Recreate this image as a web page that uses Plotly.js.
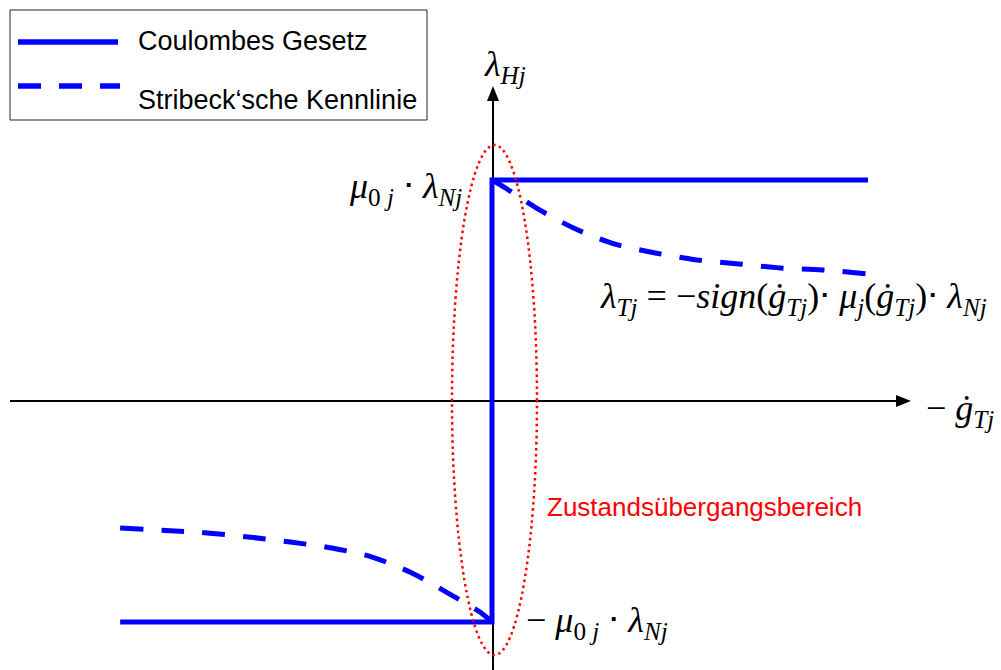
<!DOCTYPE html>
<html>
<head>
<meta charset="utf-8">
<script src="https://cdn.plot.ly/plotly-3.0.1.min.js"></script>
<style>
  html, body { margin: 0; padding: 0; background: #ffffff; }
  #chart { width: 1001px; height: 670px; }
</style>
</head>
<body>
<div id="chart"></div>
<script>
// Coulomb friction law: constant magnitude, sign jump at zero slip velocity
const coulombX = [-0.989, 0, 0, 1.0];
const coulombY = [-1.0, -1.0, 1.0, 1.0];

// Stribeck characteristic, branch for positive -ġ
const stribeckPosX = [0, 0.032, 0.122, 0.223, 0.327, 0.434, 0.545, 0.657, 0.766, 0.878, 1.0];
const stribeckPosY = [1.0, 0.968, 0.869, 0.778, 0.710, 0.670, 0.638, 0.620, 0.602, 0.593, 0.575];

// Stribeck characteristic, branch for negative -ġ
const stribeckNegX = [-0.989, -0.843, -0.758, -0.649, -0.537, -0.426, -0.319, -0.213, -0.117, -0.032, 0];
const stribeckNegY = [-0.575, -0.588, -0.597, -0.615, -0.638, -0.665, -0.706, -0.778, -0.869, -0.955, -1.0];

const legendLabels = ['Coulombes Gesetz', 'Stribeck\u2018sche Kennlinie'];
const regionLabel = 'Zustandsübergangsbereich';

// Page geometry (pixels) and the data window that places the origin
const W = 1001, H = 670;
const originPx = 492, originPy = 401, unitPx = 376, unitPy = 221;
const xRange = [-originPx / unitPx, (W - originPx) / unitPx];
const yRange = [-(H - originPy) / unitPy, originPy / unitPy];

// pixel -> paper fraction helpers for decorations and labels
const px = v => v / W;
const py = v => 1 - v / H;

const BLUE = '#0000ff';
const DASH = '23px,18px';

const traces = [
  { x: coulombX, y: coulombY, mode: 'lines', name: legendLabels[0],
    line: { color: BLUE, width: 5 }, hoverinfo: 'skip' },
  { x: stribeckPosX, y: stribeckPosY, mode: 'lines', name: legendLabels[1],
    line: { color: BLUE, width: 5, dash: DASH, shape: 'spline', smoothing: 0.8 }, hoverinfo: 'skip' },
  { x: stribeckNegX, y: stribeckNegY, mode: 'lines', name: legendLabels[1], showlegend: false,
    line: { color: BLUE, width: 5, dash: DASH, shape: 'spline', smoothing: 0.8 }, hoverinfo: 'skip' }
];

function tri(tip, b1, b2) {
  return 'M' + px(tip[0]) + ',' + py(tip[1]) +
         ' L' + px(b1[0]) + ',' + py(b1[1]) +
         ' L' + px(b2[0]) + ',' + py(b2[1]) + ' Z';
}

const shapes = [
  // horizontal axis with arrow
  { type: 'line', xref: 'paper', yref: 'paper', layer: 'below',
    x0: px(10), y0: py(originPy), x1: px(898), y1: py(originPy),
    line: { color: '#000', width: 2 } },
  { type: 'path', xref: 'paper', yref: 'paper', layer: 'above',
    path: tri([911, originPy], [896, originPy - 6], [896, originPy + 6]),
    fillcolor: '#000', line: { color: '#000', width: 0 } },
  // vertical axis with arrow
  { type: 'line', xref: 'paper', yref: 'paper', layer: 'below',
    x0: px(493), y0: py(670), x1: px(493), y1: py(98),
    line: { color: '#000', width: 2 } },
  { type: 'path', xref: 'paper', yref: 'paper', layer: 'above',
    path: tri([493, 86], [487, 101], [499, 101]),
    fillcolor: '#000', line: { color: '#000', width: 0 } },
  // transition region
  { type: 'circle', xref: 'paper', yref: 'paper', layer: 'above',
    x0: px(452), x1: px(537), y0: py(655), y1: py(145),
    line: { color: '#ff0000', width: 2.5, dash: '2.5px,3.5px' } },
  // legend frame and samples
  { type: 'rect', xref: 'paper', yref: 'paper', layer: 'above',
    x0: px(10), x1: px(427), y0: py(120), y1: py(10),
    fillcolor: '#ffffff', line: { color: '#222', width: 1 } },
  { type: 'line', xref: 'paper', yref: 'paper', layer: 'above',
    x0: px(18), x1: px(118), y0: py(42), y1: py(42),
    line: { color: BLUE, width: 5.5 } },
  { type: 'line', xref: 'paper', yref: 'paper', layer: 'above',
    x0: px(18), x1: px(120), y0: py(86), y1: py(86),
    line: { color: BLUE, width: 5.5, dash: DASH } }
];

const SERIF = 'Liberation Serif';
const SANS = 'Liberation Sans';

function label(text, x, y, size, opts) {
  return Object.assign({
    text: text, xref: 'paper', yref: 'paper', x: px(x), y: py(y),
    xanchor: 'left', yanchor: 'middle', showarrow: false,
    font: { family: SERIF, size: size, color: '#000' }
  }, opts || {});
}

const annotations = [
  label(legendLabels[0], 136, 41, 27, { font: { family: SANS, size: 27, color: '#000' } }),
  label(legendLabels[1], 136, 100, 27, { font: { family: SANS, size: 27, color: '#000' } }),
  label('<i>λ</i><sub><i>Hj</i></sub>', 482, 66, 36),
  label('<i>μ</i><sub>0 <i>j</i></sub> ⋅ <i>λ</i><sub><i>Nj</i></sub>', 464, 188, 36, { xanchor: 'right' }),
  label('<i>λ</i><sub><i>Tj</i></sub> = −<i>sign</i>(<i>ġ</i><sub><i>Tj</i></sub>)⋅ <i>μ</i><sub><i>j</i></sub>(<i>ġ</i><sub><i>Tj</i></sub>)⋅ <i>λ</i><sub><i>Nj</i></sub>', 598, 298, 36),
  label('− <i>ġ</i><sub><i>Tj</i></sub>', 924, 410, 36),
  label('− <i>μ</i><sub>0 <i>j</i></sub> ⋅ <i>λ</i><sub><i>Nj</i></sub>', 524, 622, 36),
  label(regionLabel, 545, 507, 26, { font: { family: SANS, size: 26, color: '#ff0000' } })
];

const layout = {
  width: W, height: H,
  margin: { l: 0, r: 0, t: 0, b: 0, pad: 0 },
  paper_bgcolor: '#ffffff', plot_bgcolor: '#ffffff',
  showlegend: false,
  xaxis: { range: xRange, visible: false, fixedrange: true },
  yaxis: { range: yRange, visible: false, fixedrange: true },
  shapes: shapes,
  annotations: annotations
};

Plotly.newPlot('chart', traces, layout, { staticPlot: true, displayModeBar: false });
</script>
</body>
</html>
